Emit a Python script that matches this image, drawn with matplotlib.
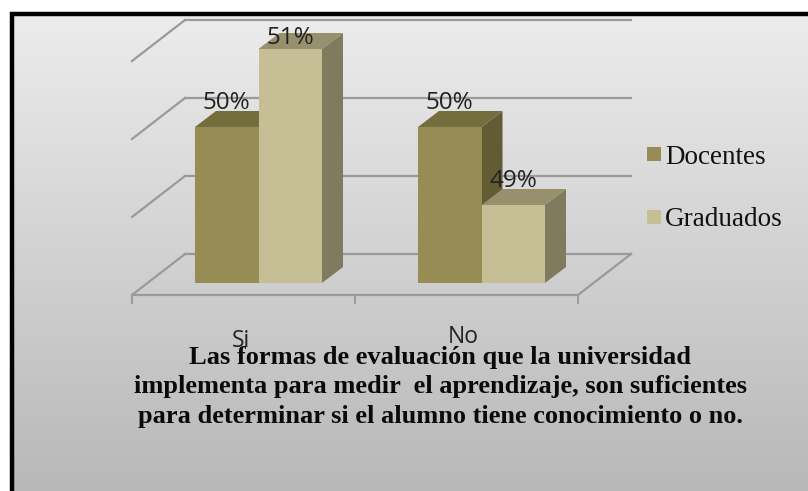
import numpy as np
import matplotlib.pyplot as plt
from matplotlib.patches import Polygon, Rectangle

## data
categorias = ['Si', 'No']
docentes = [50, 50]
graduados = [51, 49]
series = ['Docentes', 'Graduados']
grid_vals = [48, 49, 50, 51]
titulo = ('Las formas de evaluación que la universidad\n'
          'implementa para medir  el aprendizaje, son suficientes\n'
          'para determinar si el alumno tiene conocimiento o no.')

## scale: 1 category = 223 px, 1 % = 78 px
W, H = 808, 491
xpx = 223.0
ypx = 78.0
x0 = 132     # px of the first category edge
y48 = 283    # px of the value 48 at the bars base

fig = plt.figure(figsize=(W/100, H/100), dpi=100)
ax = fig.add_axes([0, 0, 1, 1])
ax.set_xlim(-x0/xpx, (W-x0)/xpx)
ax.set_ylim(48-(H-y48)/ypx, 48+y48/ypx)
ax.axis('off')

# white margin, then grey gradient panel with black border
left, top = 12, 14
grad = np.linspace(0, 1, 256).reshape(-1, 1)
colors = np.empty((256, 1, 3))
for i in range(3):
    colors[:, 0, i] = (236 - 52*grad[:, 0])/255
ax.imshow(colors, aspect='auto', zorder=0, transform=ax.transAxes,
          extent=[left/W, 1, 0, 1-top/H])
ax.set_xlim(-x0/xpx, (W-x0)/xpx)
ax.set_ylim(48-(H-y48)/ypx, 48+y48/ypx)
ax.plot([left/W, left/W, 1], [0, 1-top/H, 1-top/H], color='black', lw=3.2,
        transform=ax.transAxes, zorder=1, solid_joinstyle='miter')

# 3d offsets
wall_dx, wall_dy = 53/xpx, 41/ypx     # floor depth
front_dy = 12/ypx                     # floor front edge below the bars base
bar_dx, bar_dy = 21/xpx, 16/ypx       # bar depth
n_cat = len(categorias)
grid_c = '#9a9a9a'

# back wall lines and left wall lines
for v in grid_vals:
    yb = v - front_dy + wall_dy
    ax.plot([0, wall_dx], [v-front_dy, yb], color=grid_c, lw=1.6, zorder=2)
    ax.plot([wall_dx, n_cat+wall_dx], [yb, yb], color=grid_c, lw=1.6, zorder=2)
# floor
yf = 48 - front_dy
ax.plot([0, n_cat], [yf, yf], color=grid_c, lw=1.6, zorder=2)
ax.plot([n_cat, n_cat+wall_dx], [yf, yf+wall_dy], color=grid_c, lw=1.6, zorder=2)
for i in range(n_cat+1):
    ax.plot([i, i], [yf, yf-8/ypx], color=grid_c, lw=1.4, zorder=2)


def barra(x, w, v, front, topc, side, z):
    ax.add_patch(Polygon([[x+w, 48], [x+w+bar_dx, 48+bar_dy], [x+w+bar_dx, v+bar_dy], [x+w, v]],
                         fc=side, ec='none', zorder=z))
    ax.add_patch(Polygon([[x, v], [x+bar_dx, v+bar_dy], [x+w+bar_dx, v+bar_dy], [x+w, v]],
                         fc=topc, ec='none', zorder=z))
    ax.add_patch(Rectangle((x, 48), w, v-48, fc=front, ec='none', zorder=z))


def etiqueta(x, v, sep):
    ax.text(x, v+sep/ypx, '%d%%' % v, ha='center', va='center', fontsize=17.5,
            family='Open Sans', color='#222222', zorder=6)


bw = 63.5/xpx
centro = 126.5/xpx
doc_c = ('#968c54', '#746d3e', '#625c35')
gra_c = ('#c6bf96', '#96906f', '#7f7b5e')
cat_sep = [58, 54]
for i in range(n_cat):
    c = i + centro
    barra(c-bw, bw, docentes[i], *doc_c, 3)
    barra(c, bw, graduados[i], *gra_c, 4)
    etiqueta(c-bw/2, docentes[i], 24)
    etiqueta(c+bw/2, graduados[i], 11 if graduados[i] > 50 else 24)
    ax.text(c-0.08, 48-cat_sep[i]/ypx, categorias[i], ha='center', va='center', fontsize=16.5,
            family='Open Sans', color='#222222', zorder=6)

# legend
for nom, col, vl in zip(series, [doc_c[0], gra_c[0]], [49.65, 48.85]):
    ax.add_patch(Rectangle((2.31, vl-7/ypx), 14/xpx, 14/ypx, fc=col, ec='none', zorder=5))
    ax.text(2.39, vl-3/ypx, nom, ha='left', va='center', fontsize=19.5, family='Liberation Serif',
            color='#111111', zorder=6)

ax.text(440/W, 1-387/H, titulo, ha='center', va='center', ma='center', fontsize=19,
        fontweight='bold', family='Liberation Serif', color='#0a0a0a', linespacing=1.36,
        transform=ax.transAxes, zorder=7)

fig.savefig('out.png', dpi=100)
